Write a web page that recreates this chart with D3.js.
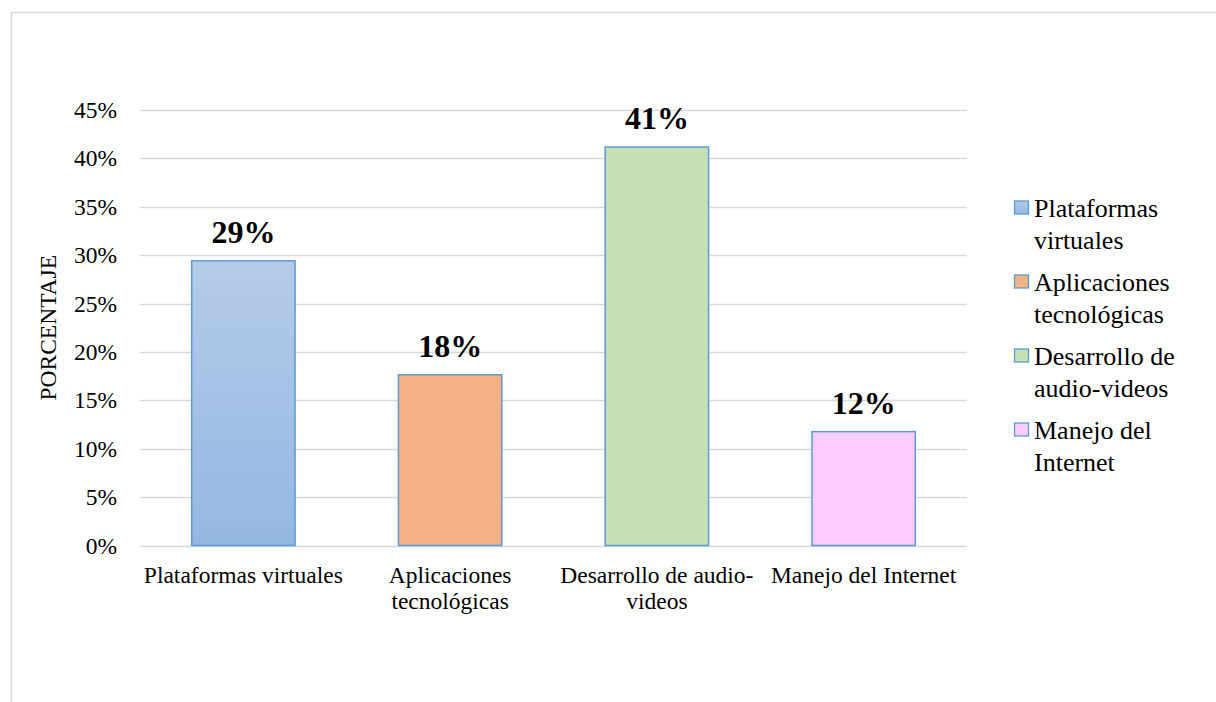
<!DOCTYPE html>
<html>
<head>
<meta charset="utf-8">
<script src="https://cdn.jsdelivr.net/npm/d3@7"></script>
<style>
  html, body { margin: 0; padding: 0; background: #fff; }
  svg { display: block; }
  text { font-family: "Liberation Serif", "Times New Roman", serif; fill: #000; }
</style>
</head>
<body>
<svg id="chart" width="1216" height="702"></svg>
<script>
// Herramientas digitales: porcentaje de respuestas (n = 17)
const categories = ["Plataformas virtuales", "Aplicaciones tecnológicas", "Desarrollo de audio-videos", "Manejo del Internet"];
const values = [5 / 17, 3 / 17, 7 / 17, 2 / 17];
const fills = ["#a7c3e6", "#f4b183", "#c5e0b4", "#ffccff"];
const yTicks = [0, 0.05, 0.10, 0.15, 0.20, 0.25, 0.30, 0.35, 0.40, 0.45];
const yTitle = "PORCENTAJE";
const legendLines = [["Plataformas", "virtuales"], ["Aplicaciones", "tecnológicas"], ["Desarrollo de", "audio-videos"], ["Manejo del", "Internet"]];

const svg = d3.select("#chart");

// outer frame of the chart area
svg.append("rect")
  .attr("x", 11.5).attr("y", 12.5)
  .attr("width", 1230).attr("height", 720)
  .attr("fill", "#fff").attr("stroke", "#d9d9d9").attr("stroke-width", 1.5);

const plot = { left: 140, right: 967, top: 110, bottom: 545.5 };

const x = d3.scaleBand()
  .domain(categories)
  .range([plot.left, plot.right])
  .paddingInner(0.5)
  .paddingOuter(0.25);

const y = d3.scaleLinear()
  .domain([0, 0.45])
  .range([plot.bottom, plot.top]);

const pct = d3.format(".0%");

// gridlines
svg.append("g")
  .selectAll("line")
  .data(yTicks)
  .join("line")
  .attr("x1", plot.left).attr("x2", plot.right)
  .attr("y1", d => Math.round(y(d)) + 0.5).attr("y2", d => Math.round(y(d)) + 0.5)
  .attr("stroke", "#d9d9d9").attr("stroke-width", 1.3);

// y axis labels
const yAxis = d3.axisLeft(y).tickValues(yTicks).tickFormat(pct).tickSize(0).tickPadding(0);
const gy = svg.append("g").attr("transform", `translate(117,0)`).call(yAxis);
gy.select(".domain").remove();
gy.selectAll("text")
  .attr("font-size", 23.5)
  .attr("font-family", "Liberation Serif, serif")
  .attr("fill", "#000");

// y axis title
svg.append("text")
  .attr("transform", `translate(56,${(plot.top + plot.bottom) / 2}) rotate(-90)`)
  .attr("text-anchor", "middle")
  .attr("font-size", 23.5)
  .text(yTitle);

// bar gradient for the first series
const defs = svg.append("defs");
const grad = defs.append("linearGradient")
  .attr("id", "gradBlue").attr("x1", 0).attr("y1", 0).attr("x2", 0).attr("y2", 1);
grad.append("stop").attr("offset", "0%").attr("stop-color", "#b4cbe9");
grad.append("stop").attr("offset", "100%").attr("stop-color", "#94b7e2");

const rows = categories.map((c, i) => ({ c, v: values[i], fill: i === 0 ? "url(#gradBlue)" : fills[i] }));

// bars
svg.append("g")
  .selectAll("rect")
  .data(rows)
  .join("rect")
  .attr("x", d => x(d.c))
  .attr("y", d => y(d.v))
  .attr("width", x.bandwidth())
  .attr("height", d => y(0) - y(d.v))
  .attr("fill", d => d.fill)
  .attr("stroke", "#5b9bd5")
  .attr("stroke-width", 1.5);

// value labels
svg.append("g")
  .selectAll("text")
  .data(rows)
  .join("text")
  .attr("x", d => x(d.c) + x.bandwidth() / 2)
  .attr("y", d => y(d.v) - 18)
  .attr("text-anchor", "middle")
  .attr("font-size", 32)
  .attr("font-weight", "bold")
  .text(d => pct(d.v));

// category labels, wrapped to the band step
const measure = svg.append("text").attr("font-size", 23.5).attr("visibility", "hidden");
function wrapLabel(label, maxW) {
  const tokens = label.match(/[^\s-]+-?/g);
  const lines = [];
  let cur = "";
  tokens.forEach(tok => {
    const sep = cur === "" ? "" : (cur.endsWith("-") ? "" : " ");
    const trial = cur + sep + tok;
    measure.text(trial);
    if (cur !== "" && measure.node().getComputedTextLength() > maxW) {
      lines.push(cur);
      cur = tok;
    } else {
      cur = trial;
    }
  });
  if (cur) lines.push(cur);
  return lines;
}
const step = x.step();
const gx = svg.append("g");
categories.forEach(c => {
  const cx = x(c) + x.bandwidth() / 2;
  const lines = wrapLabel(c, step);
  const t = gx.append("text")
    .attr("x", cx)
    .attr("y", 583)
    .attr("text-anchor", "middle")
    .attr("font-size", 23.5);
  lines.forEach((ln, i) => {
    t.append("tspan").attr("x", cx).attr("dy", i === 0 ? 0 : 26).text(ln);
  });
});
measure.remove();

// legend
const lg = svg.append("g");
rows.forEach((d, i) => {
  const top = 201 + i * 74;
  lg.append("rect")
    .attr("x", 1014.5).attr("y", top)
    .attr("width", 14).attr("height", 13)
    .attr("fill", d.fill)
    .attr("stroke", "#5b9bd5").attr("stroke-width", 1.3);
  const t = lg.append("text").attr("x", 1034).attr("y", top + 16).attr("font-size", 26);
  legendLines[i].forEach((ln, j) => {
    t.append("tspan").attr("x", 1034).attr("dy", j === 0 ? 0 : 32).text(ln);
  });
});
</script>
</body>
</html>
